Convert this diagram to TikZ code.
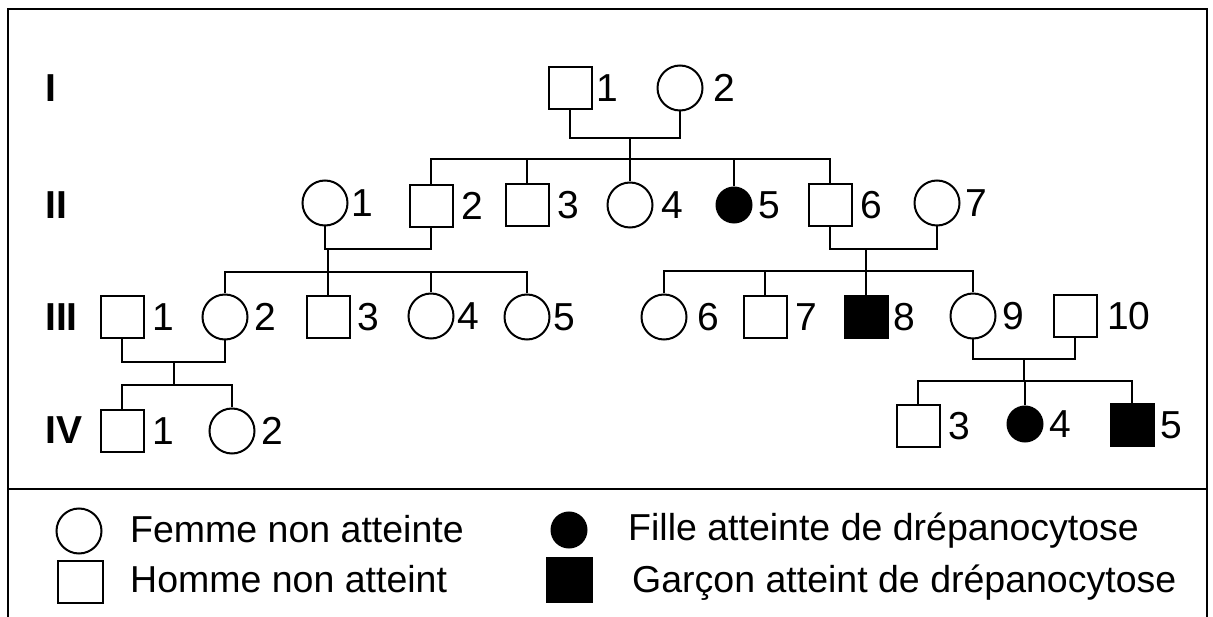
\documentclass[tikz,border=0pt]{standalone}
\usepackage{fontspec}
\setmainfont{Liberation Sans}
\begin{document}
\begin{tikzpicture}[x=1pt,y=-1pt,
  ln/.style={line width=2pt},
  male/.style={draw, line width=2pt, rectangle, minimum width=43pt, minimum height=42pt, inner sep=0pt},
  female/.style={draw, line width=2pt, circle, minimum size=45pt, inner sep=0pt},
  affm/.style={male, fill=black},
  afff/.style={draw, line width=2pt, circle, fill=black, minimum size=35pt, inner sep=0pt},
  lab/.style={anchor=west, inner sep=0pt, font=\fontsize{39}{39}\selectfont},
  gen/.style={anchor=west, inner sep=0pt, font=\fontsize{39}{39}\selectfont\bfseries},
  leg/.style={anchor=base west, inner sep=0pt, font=\fontsize{37.5}{37.5}\selectfont}
]
\useasboundingbox (0,0) rectangle (1213,617);
% frame
\draw[line width=2.8pt] (8,617) -- (8,9) -- (1207,9) -- (1207,617);
\draw[line width=2.8pt] (8,489) -- (1207,489);

% generation labels
\node[gen] (gI) at (45,88) {I};
\node[gen] (gII) at (45,205) {II};
\node[gen] (gIII) at (45,317) {III};
\node[gen] (gIV) at (45,430) {IV};

% Generation I
\node[male] (I1) at (570,88) {};
\node[lab] (lI1) at (596,88) {1};
\node[female] (I2) at (680,88) {};
\node[lab] (lI2) at (713,88) {2};

% Generation II
\node[female] (II1) at (325,203) {};
\node[lab] at (351,203) {1};
\node[male] (II2) at (431,206) {};
\node[lab] at (461,206) {2};
\node[male] (II3) at (527,205) {};
\node[lab] at (557,205) {3};
\node[female] (II4) at (630,205) {};
\node[lab] at (661,205) {4};
\node[afff] (II5) at (734,205) {};
\node[lab] at (758,205) {5};
\node[male] (II6) at (830,205) {};
\node[lab] at (860,205) {6};
\node[female] (II7) at (937,203) {};
\node[lab] at (965,203) {7};

% Generation III
\node[male] (III1) at (122,317) {};
\node[lab] at (152,317) {1};
\node[female] (III2) at (225,317) {};
\node[lab] at (254,317) {2};
\node[male] (III3) at (328,317) {};
\node[lab] at (357,317) {3};
\node[female] (III4) at (431,316) {};
\node[lab] at (457,316) {4};
\node[female] (III5) at (527,317) {};
\node[lab] at (553,317) {5};
\node[female] (III6) at (664,317) {};
\node[lab] at (697,317) {6};
\node[male] (III7) at (765,317) {};
\node[lab] at (795,317) {7};
\node[affm] (III8) at (866,317) {};
\node[lab] at (893,317) {8};
\node[female] (III9) at (973,316) {};
\node[lab] at (1002,316) {9};
\node[male] (III10) at (1075,316) {};
\node[lab] at (1107,316) {10};

% Generation IV
\node[male] (IV1) at (122,431) {};
\node[lab] at (152,431) {1};
\node[female] (IV2) at (232,431) {};
\node[lab] at (261,431) {2};
\node[male] (IV3) at (918,426) {};
\node[lab] at (948,426) {3};
\node[afff] (IV4) at (1025,424) {};
\node[lab] at (1049,424) {4};
\node[affm] (IV5) at (1132,425) {};
\node[lab] at (1160,425) {5};

% connectors generation I -> II
\coordinate (mI) at (630,138);
\coordinate (sII) at (630,159);
\draw[ln] (I1.south) |- (mI) -| (I2.south);
\draw[ln] (mI) -- (sII);
\foreach \c in {II2,II3,II4,II5,II6} \draw[ln] (sII) -| (\c.north);

% II1 x II2
\coordinate (mA) at (328,249);
\coordinate (sA) at (328,272);
\draw[ln] (II1.south) |- (mA) -| (II2.south);
\draw[ln] (mA) -- (sA);
\foreach \c in {III2,III3,III4,III5} \draw[ln] (sA) -| (\c.north);

% II6 x II7
\coordinate (mB) at (866,249);
\coordinate (sB) at (866,271);
\draw[ln] (II6.south) |- (mB) -| (II7.south);
\draw[ln] (mB) -- (sB);
\foreach \c in {III6,III7,III8,III9} \draw[ln] (sB) -| (\c.north);

% III1 x III2
\coordinate (mC) at (174,362);
\coordinate (sC) at (174,385);
\draw[ln] (III1.south) |- (mC) -| (III2.south);
\draw[ln] (mC) -- (sC);
\foreach \c in {IV1,IV2} \draw[ln] (sC) -| (\c.north);

% III9 x III10
\coordinate (mD) at (1024,359);
\coordinate (sD) at (1024,381);
\draw[ln] (III9.south) |- (mD) -| (III10.south);
\draw[ln] (mD) -- (sD);
\foreach \c in {IV3,IV4,IV5} \draw[ln] (sD) -| (\c.north);

% legend
\node[female] (LF) at (79,531) {};
\node[leg] (tF) at (130,542) {Femme non atteinte};
\node[male, minimum width=45pt] (LM) at (80,582) {};
\node[leg] (tM) at (130,592) {Homme non atteint};
\node[afff] (LAF) at (569,530) {};
\node[leg] (tAF) at (628,540) {Fille atteinte de drépanocytose};
\node[affm, minimum width=45pt, minimum height=44pt] (LAM) at (569,580) {};
\node[leg] (tAM) at (632,592) {Garçon atteint de drépanocytose};
\end{tikzpicture}
\end{document}
